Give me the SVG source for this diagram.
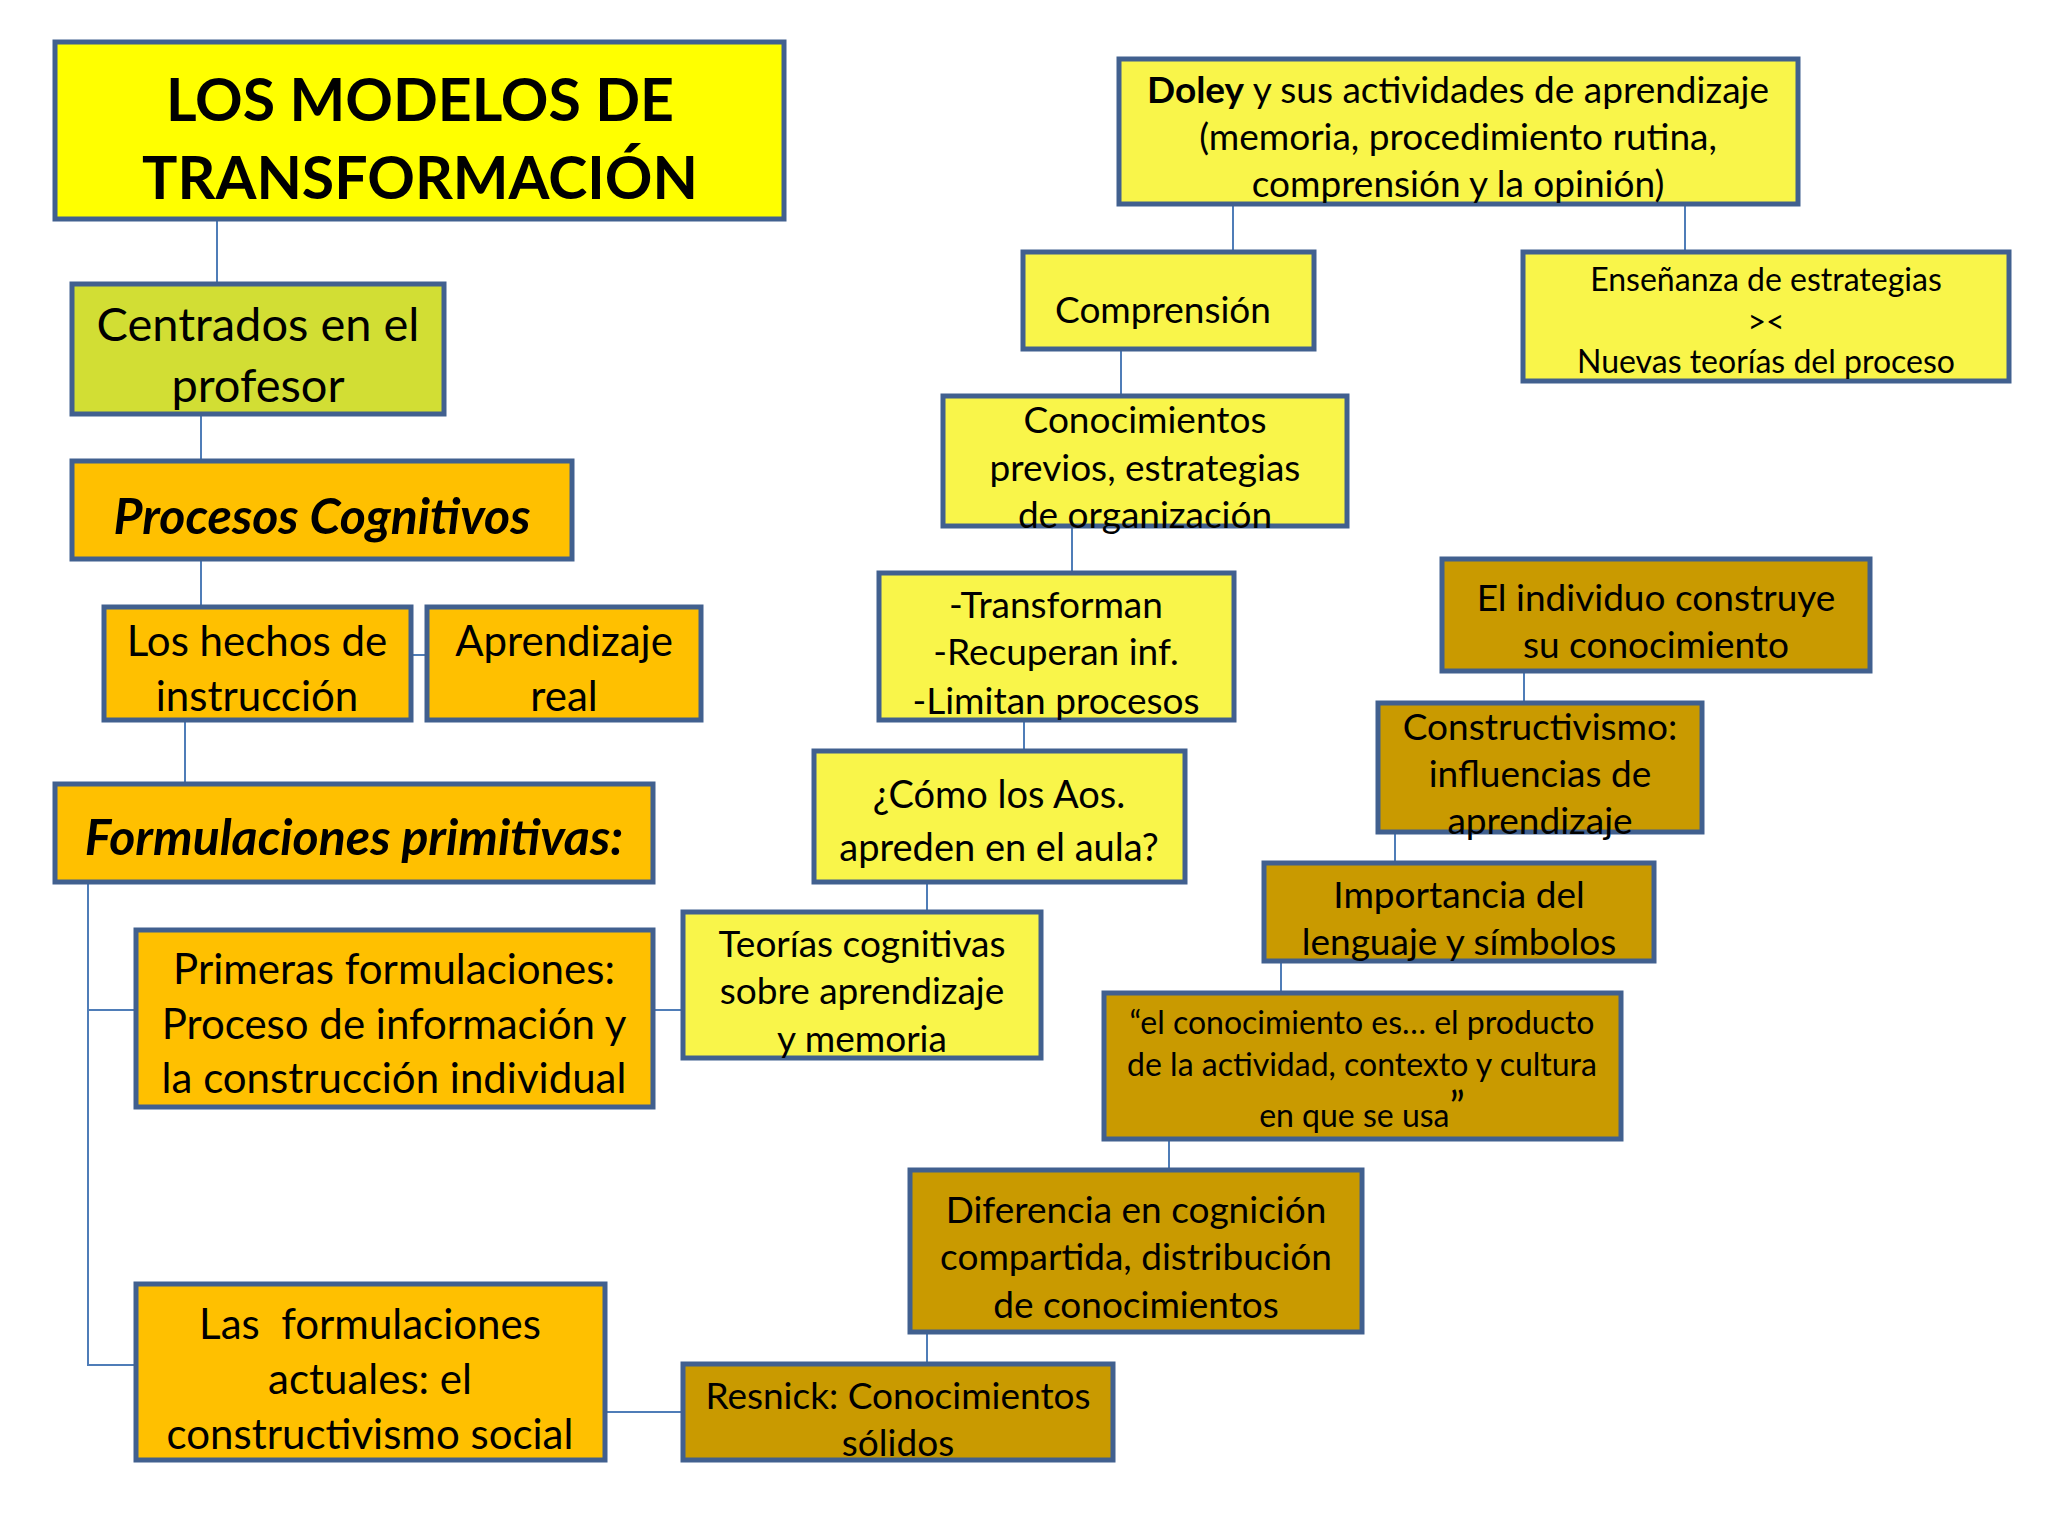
<svg xmlns="http://www.w3.org/2000/svg" width="2048" height="1536" viewBox="0 0 2048 1536">
<style>
.box{stroke:#41608F;stroke-width:5}
.y1{fill:#FFFF00}
.g{fill:#D2DE34}
.o{fill:#FFC000}
.ly{fill:#F9F54A}
.d{fill:#C99A00}
text{font-family:Lato,"Noto Sans",sans-serif;fill:#000;text-anchor:middle;dominant-baseline:central}
.t60{font-size:59px;font-weight:bold}
.t44{font-size:47px}
.t42{font-size:42px}
.bi{font-size:50px;font-weight:bold;font-style:italic}
.t34{font-size:37px}
.t36{font-size:38px}
.t29{font-size:32px}
.conn{stroke:#4F7DB8;stroke-width:2;fill:none}
</style>
<rect width="2048" height="1536" fill="#fff"/>
<g id="connectors" class="conn">
<path d="M217 219V283"/>
<path d="M201 414V461"/>
<path d="M201 559V607"/>
<path d="M411 655H427"/>
<path d="M185 720V784"/>
<path d="M88 882V1365H136"/>
<path d="M88 1010H136"/>
<path d="M653 1010H683"/>
<path d="M605 1412H683"/>
<path d="M1233 204V252"/>
<path d="M1685 204V252"/>
<path d="M1121 349V396"/>
<path d="M1072 526V573"/>
<path d="M1024 720V751"/>
<path d="M927 882V912"/>
<path d="M1524 671V703"/>
<path d="M1395 832V863"/>
<path d="M1281 961V993"/>
<path d="M1169 1139V1170"/>
<path d="M927 1332V1364"/>
</g>
<g id="n-title"><rect class="box y1" x="55" y="42" width="729" height="177"/>
<text class="t60" x="420" y="98">LOS MODELOS DE</text>
<text class="t60" x="420" y="176">TRANSFORMACIÓN</text></g>
<g id="n-centrados"><rect class="box g" x="72" y="284" width="372" height="130"/>
<text class="t44" x="258" y="323">Centrados en el</text>
<text class="t44" x="258" y="384">profesor</text></g>
<g id="n-procesos"><rect class="box o" x="72" y="461" width="500" height="98"/>
<text class="bi" x="322" y="515">Procesos Cognitivos</text></g>
<g id="n-hechos"><rect class="box o" x="104" y="607" width="307" height="113"/>
<text class="t42" x="257" y="640">Los hechos de</text>
<text class="t42" x="257" y="695">instrucción</text></g>
<g id="n-aprendizaje"><rect class="box o" x="427" y="607" width="274" height="113"/>
<text class="t42" x="564" y="640">Aprendizaje</text>
<text class="t42" x="564" y="695">real</text></g>
<g id="n-formulaciones"><rect class="box o" x="55" y="784" width="598" height="98"/>
<text class="bi" x="354" y="836">Formulaciones primitivas:</text></g>
<g id="n-primeras"><rect class="box o" x="136" y="930" width="517" height="177"/>
<text class="t42" x="394" y="968">Primeras formulaciones:</text>
<text class="t42" x="394" y="1023">Proceso de información y</text>
<text class="t42" x="394" y="1077">la construcción individual</text></g>
<g id="n-actuales"><rect class="box o" x="136" y="1284" width="469" height="176"/>
<text class="t42" x="370" y="1323" xml:space="preserve">Las  formulaciones</text>
<text class="t42" x="370" y="1378">actuales: el</text>
<text class="t42" x="370" y="1433">constructivismo social</text></g>
<g id="n-teorias"><rect class="box ly" x="683" y="912" width="358" height="146"/>
<text class="t34" x="862" y="942">Teorías cognitivas</text>
<text class="t34" x="862" y="989">sobre aprendizaje</text>
<text class="t34" x="862" y="1037">y memoria</text></g>
<g id="n-resnick"><rect class="box d" x="683" y="1364" width="430" height="96"/>
<text class="t34" x="898" y="1394">Resnick: Conocimientos</text>
<text class="t34" x="898" y="1441">sólidos</text></g>
<g id="n-doley"><rect class="box ly" x="1119" y="59" width="679" height="145"/>
<text class="t34" x="1458" y="88"><tspan font-weight="bold">Doley</tspan> y sus actividades de aprendizaje</text>
<text class="t34" x="1458" y="135">(memoria, procedimiento rutina,</text>
<text class="t34" x="1458" y="182">comprensión y la opinión)</text></g>
<g id="n-comprension"><rect class="box ly" x="1023" y="252" width="291" height="97"/>
<text class="t34" x="1163" y="308">Comprensión</text></g>
<g id="n-ensenanza"><rect class="box ly" x="1523" y="252" width="486" height="129"/>
<text class="t29" x="1766" y="278">Enseñanza de estrategias</text>
<text class="t29" x="1766" y="320">&gt;&lt;</text>
<text class="t29" x="1766" y="360">Nuevas teorías del proceso</text></g>
<g id="n-conocimientos"><rect class="box ly" x="943" y="396" width="404" height="130"/>
<text class="t34" x="1145" y="418">Conocimientos</text>
<text class="t34" x="1145" y="466">previos, estrategias</text>
<text class="t34" x="1145" y="513">de organización</text></g>
<g id="n-transforman"><rect class="box ly" x="879" y="573" width="355" height="147"/>
<text class="t34" x="1056" y="603">-Transforman</text>
<text class="t34" x="1056" y="650">-Recuperan inf.</text>
<text class="t34" x="1056" y="699">-Limitan procesos</text></g>
<g id="n-como"><rect class="box ly" x="814" y="751" width="371" height="131"/>
<text class="t36" x="999" y="793">¿Cómo los Aos.</text>
<text class="t36" x="999" y="846">apreden en el aula?</text></g>
<g id="n-individuo"><rect class="box d" x="1442" y="559" width="428" height="112"/>
<text class="t34" x="1656" y="596">El individuo construye</text>
<text class="t34" x="1656" y="643">su conocimiento</text></g>
<g id="n-constructivismo"><rect class="box d" x="1378" y="703" width="324" height="129"/>
<text class="t34" x="1540" y="725">Constructivismo:</text>
<text class="t34" x="1540" y="772">influencias de</text>
<text class="t34" x="1540" y="819">aprendizaje</text></g>
<g id="n-importancia"><rect class="box d" x="1264" y="863" width="390" height="98"/>
<text class="t34" x="1459" y="893">Importancia del</text>
<text class="t34" x="1459" y="940">lenguaje y símbolos</text></g>
<g id="n-cita"><rect class="box d" x="1104" y="993" width="517" height="146"/>
<text class="t29" x="1362" y="1021">“el conocimiento es… el producto</text>
<text class="t29" x="1362" y="1063">de la actividad, contexto y cultura</text>
<text class="t29" x="1362" y="1114">en que se usa<tspan font-size="42" dy="-8">”</tspan></text></g>
<g id="n-diferencia"><rect class="box d" x="910" y="1170" width="452" height="162"/>
<text class="t34" x="1136" y="1208">Diferencia en cognición</text>
<text class="t34" x="1136" y="1255">compartida, distribución</text>
<text class="t34" x="1136" y="1303">de conocimientos</text></g>
</svg>
